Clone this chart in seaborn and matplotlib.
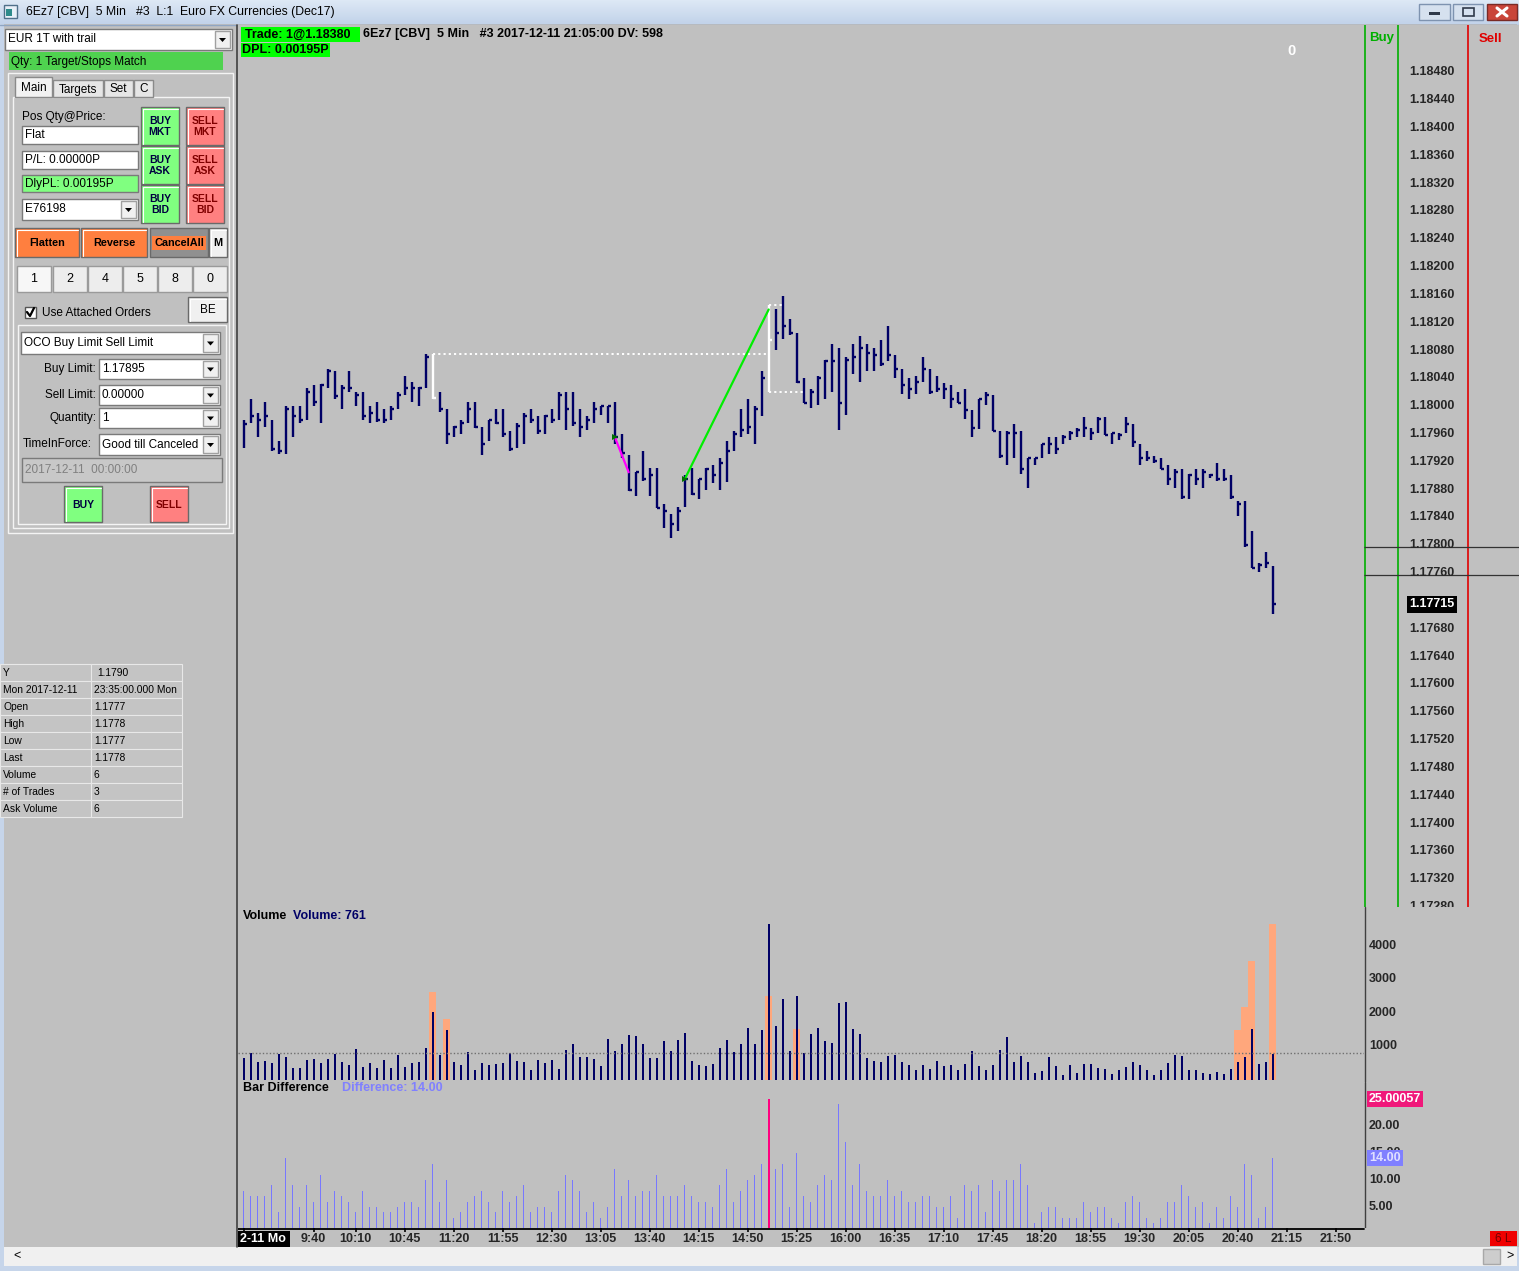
import numpy as np
import matplotlib
matplotlib.use("Agg")
import matplotlib.pyplot as plt
from matplotlib.patches import Rectangle, Polygon
from matplotlib.colors import LinearSegmentedColormap
import seaborn as sns

# 6Ez7 5 min bars, first bar 8:50, last bar 21:05
high = [1.17980, 1.18010, 1.17990, 1.18006, 1.17980, 1.17950, 1.18000, 1.18000, 1.18000, 1.18026,
        1.18030, 1.18032, 1.18054, 1.18050, 1.18030, 1.18050, 1.18020, 1.18020, 1.18000, 1.18006,
        1.17996, 1.18000, 1.18020, 1.18044, 1.18035, 1.18027, 1.18075, 1.18075, 1.18020, 1.17996,
        1.17972, 1.17980, 1.18006, 1.18006, 1.17970, 1.17980, 1.17996, 1.17996, 1.17965, 1.17976,
        1.17990, 1.17996, 1.17986, 1.17988, 1.17996, 1.18020, 1.18020, 1.18020, 1.17996, 1.17986,
        1.18006, 1.18000, 1.18000, 1.18006, 1.17960, 1.17930, 1.17906, 1.17935, 1.17911, 1.17911,
        1.17860, 1.17845, 1.17855, 1.17901, 1.17911, 1.17896, 1.17911, 1.17915, 1.17925, 1.17950,
        1.17965, 1.17996, 1.18010, 1.18000, 1.18050, 1.18146, 1.18139, 1.18159, 1.18125, 1.18105,
        1.18040, 1.18025, 1.18044, 1.18066, 1.18090, 1.18084, 1.18070, 1.18090, 1.18101, 1.18090,
        1.18084, 1.18095, 1.18115, 1.18074, 1.18054, 1.18040, 1.18044, 1.18070, 1.18054, 1.18044,
        1.18034, 1.18030, 1.18020, 1.18025, 1.17995, 1.18011, 1.18020, 1.18016, 1.17965, 1.17965,
        1.17975, 1.17965, 1.17926, 1.17926, 1.17946, 1.17955, 1.17955, 1.17959, 1.17965, 1.17969,
        1.17985, 1.17969, 1.17985, 1.17985, 1.17961, 1.17961, 1.17985, 1.17975, 1.17945, 1.17935,
        1.17929, 1.17925, 1.17915, 1.17910, 1.17910, 1.17902, 1.17910, 1.17910, 1.17903, 1.17919,
        1.17910, 1.17901, 1.17864, 1.17864, 1.17820, 1.17775, 1.17790, 1.17770]
low = [1.17940, 1.17976, 1.17956, 1.17970, 1.17936, 1.17931, 1.17931, 1.17956, 1.17976, 1.17980,
       1.18000, 1.17976, 1.18026, 1.18010, 1.17996, 1.18020, 1.18000, 1.17980, 1.17976, 1.17977,
       1.17976, 1.17980, 1.17996, 1.18016, 1.18006, 1.18000, 1.18026, 1.18010, 1.17991, 1.17946,
       1.17956, 1.17960, 1.17976, 1.17968, 1.17930, 1.17950, 1.17974, 1.17956, 1.17936, 1.17940,
       1.17946, 1.17976, 1.17960, 1.17960, 1.17976, 1.17980, 1.17966, 1.17972, 1.17956, 1.17966,
       1.17976, 1.17987, 1.17976, 1.17946, 1.17926, 1.17878, 1.17871, 1.17893, 1.17871, 1.17853,
       1.17825, 1.17811, 1.17821, 1.17855, 1.17872, 1.17866, 1.17880, 1.17890, 1.17880, 1.17891,
       1.17936, 1.17956, 1.17960, 1.17946, 1.17986, 1.18021, 1.18081, 1.18096, 1.18102, 1.18033,
       1.18004, 1.17997, 1.18001, 1.18011, 1.18021, 1.17966, 1.17987, 1.18046, 1.18035, 1.18051,
       1.18051, 1.18058, 1.18065, 1.18041, 1.18017, 1.18011, 1.18017, 1.18035, 1.18018, 1.18021,
       1.18011, 1.17997, 1.18004, 1.17981, 1.17956, 1.17967, 1.18001, 1.17964, 1.17926, 1.17916,
       1.17926, 1.17902, 1.17882, 1.17916, 1.17926, 1.17931, 1.17931, 1.17946, 1.17951, 1.17955,
       1.17956, 1.17951, 1.17961, 1.17958, 1.17946, 1.17951, 1.17961, 1.17941, 1.17916, 1.17921,
       1.17918, 1.17909, 1.17886, 1.17882, 1.17866, 1.17866, 1.17886, 1.17882, 1.17897, 1.17893,
       1.17893, 1.17866, 1.17842, 1.17798, 1.17767, 1.17761, 1.17767, 1.17701]
close = [1.17975, 1.17986, 1.17980, 1.17986, 1.17939, 1.17935, 1.17996, 1.17986, 1.17980, 1.18020,
         1.18006, 1.18030, 1.18050, 1.18015, 1.18026, 1.18026, 1.18016, 1.17986, 1.17990, 1.17980,
         1.17980, 1.17996, 1.18016, 1.18026, 1.18026, 1.18026, 1.18070, 1.18012, 1.17996, 1.17960,
         1.17970, 1.17976, 1.17996, 1.17970, 1.17946, 1.17980, 1.17976, 1.17960, 1.17939, 1.17972,
         1.17986, 1.17980, 1.17965, 1.17986, 1.17980, 1.18016, 1.17996, 1.17976, 1.17970, 1.17980,
         1.17996, 1.18000, 1.18000, 1.17956, 1.17932, 1.17880, 1.17905, 1.17895, 1.17901, 1.17854,
         1.17850, 1.17830, 1.17850, 1.17895, 1.17874, 1.17895, 1.17910, 1.17901, 1.17918, 1.17935,
         1.17960, 1.17966, 1.17970, 1.17996, 1.18040, 1.18095, 1.18105, 1.18115, 1.18105, 1.18035,
         1.18005, 1.18020, 1.18040, 1.18065, 1.18065, 1.18005, 1.18066, 1.18070, 1.18084, 1.18077,
         1.18074, 1.18060, 1.18074, 1.18054, 1.18030, 1.18025, 1.18035, 1.18054, 1.18020, 1.18025,
         1.18025, 1.18010, 1.18005, 1.17995, 1.17969, 1.18010, 1.18016, 1.17965, 1.17929, 1.17961,
         1.17961, 1.17910, 1.17925, 1.17925, 1.17946, 1.17946, 1.17939, 1.17955, 1.17961, 1.17966,
         1.17969, 1.17961, 1.17981, 1.17959, 1.17961, 1.17959, 1.17975, 1.17949, 1.17925, 1.17925,
         1.17921, 1.17910, 1.17895, 1.17905, 1.17870, 1.17901, 1.17895, 1.17905, 1.17901, 1.17895,
         1.17895, 1.17870, 1.17860, 1.17800, 1.17768, 1.17771, 1.17775, 1.17715]
volume = [657, 806, 537, 567, 507, 776, 687, 358, 358, 597,
          627, 507, 627, 776, 537, 448, 925, 388, 507, 358,
          597, 358, 746, 388, 507, 537, 955, 2030, 746, 1493,
          537, 448, 836, 299, 507, 448, 478, 507, 806, 567,
          537, 299, 597, 507, 597, 328, 896, 1075, 687, 687,
          627, 418, 1224, 866, 1075, 1343, 1313, 1075, 657, 657,
          1164, 866, 1194, 1403, 567, 448, 418, 478, 955, 1194,
          836, 1075, 1552, 1075, 1493, 4657, 1612, 2418, 866, 2507,
          806, 1373, 1552, 1164, 1104, 2298, 2328, 1522, 1373, 657,
          567, 537, 716, 746, 537, 448, 299, 448, 328, 567,
          418, 448, 299, 478, 866, 418, 299, 448, 896, 1284,
          537, 716, 537, 209, 269, 687, 418, 149, 448, 209,
          478, 478, 358, 328, 179, 299, 388, 537, 448, 299,
          149, 299, 507, 746, 716, 299, 299, 209, 179, 239,
          179, 328, 537, 687, 1522, 478, 537, 761]
volume_hi = [0] * 148
for i, v in [(27, 2617), (29, 1821), (75, 2507), (79, 1522),
             (142, 1483), (143, 2179), (144, 3552), (147, 4647)]:
    volume_hi[i] = v
bar_diff = [8, 7, 7, 7, 9, 4, 14, 9, 5, 9,
            6, 11, 6, 8, 7, 6, 4, 8, 5, 5,
            4, 4, 5, 6, 6, 5, 10, 13, 6, 10,
            3, 4, 6, 7, 8, 6, 4, 8, 6, 7,
            9, 4, 5, 5, 4, 8, 11, 10, 8, 4,
            6, 3, 5, 12, 7, 10, 7, 8, 8, 11,
            7, 7, 7, 9, 7, 6, 6, 5, 9, 12,
            6, 8, 10, 11, 13, 25.00057, 12, 13, 5, 15,
            7, 6, 9, 11, 10, 24, 17, 9, 13, 8,
            7, 7, 10, 7, 8, 6, 6, 7, 7, 5,
            5, 7, 3, 9, 8, 9, 4, 10, 8, 10,
            10, 13, 9, 2, 4, 5, 5, 3, 3, 3,
            6, 4, 5, 5, 3, 2, 6, 7, 6, 3,
            2, 3, 6, 6, 9, 7, 5, 6, 2, 5,
            3, 7, 5, 13, 11, 3, 5, 14]
first_bar = "8:50"
time_labels = ["9:40", "10:10", "10:45", "11:20", "11:55", "12:30", "13:05", "13:40",
               "14:15", "14:50", "15:25", "16:00", "16:35", "17:10", "17:45", "18:20",
               "18:55", "19:30", "20:05", "20:40", "21:15", "21:50"]
price_ticks = np.round(np.arange(1.17280, 1.18481, 0.0004), 5)
vol_ticks = [1000, 2000, 3000, 4000]
diff_ticks = [5, 10, 15, 20]
avg_volume = 800
short_trade = [(53, 1.17956), (55, 1.17905)]
long_trade = [(63, 1.17895), (75, 1.18139)]
marked_bars = [27, 75]
order_lines = [1.17797, 1.17757]

data_rows = [("Y", "1.1790"), ("Mon 2017-12-11", "23:35:00.000 Mon"), ("Open", "1.1777"),
             ("High", "1.1778"), ("Low", "1.1777"), ("Last", "1.1778"), ("Volume", "6"),
             ("# of Trades", "3"), ("Ask Volume", "6")]

sns.set_theme(style="white")
plt.rcParams['font.family'] = ['Liberation Sans', 'DejaVu Sans']

W, H = 1519, 1271
GRAY = '#C0C0C0'
NAVY = '#000066'
fig = plt.figure(figsize=(W / 100, H / 100), dpi=100)
fig.patch.set_facecolor(GRAY)


def add_ax(x0, y0, x1, y1):
    return fig.add_axes([x0 / W, 1 - y1 / H, (x1 - x0) / W, (y1 - y0) / H])


def clean(a):
    a.set_xticks([])
    a.set_yticks([])
    a.set_xlabel('')
    a.set_ylabel('')
    for s in a.spines.values():
        s.set_visible(False)


# ---------- window chrome + order entry panel (pixel coordinates) ----------
ui = add_ax(0, 0, W, H)
ui.set_facecolor(GRAY)
clean(ui)


def rect(x0, y0, x1, y1, fc, ec='none', lw=1.0, z=2, a=None):
    (a or ui).add_patch(Rectangle((x0, y0), x1 - x0, y1 - y0, facecolor=fc,
                                  edgecolor=ec, lw=lw, zorder=z))


def label(x, y, s, size=8.5, ha='left', color='black', weight='normal', a=None, **kw):
    (a or ui).text(x, y, s, fontsize=size, ha=ha, va='center', color=color,
                   fontweight=weight, zorder=6, **kw)


def button(x0, y0, x1, y1, fc, text='', tc='black', size=7.5, weight='bold'):
    rect(x0, y0, x1, y1, fc, ec='#6A6A6A')
    ui.plot([x0 + 1.5, x0 + 1.5, x1 - 1.5], [y1 - 1.5, y0 + 1.5, y0 + 1.5],
            color='white', lw=0.8, zorder=3)
    label((x0 + x1) / 2, (y0 + y1) / 2 + 0.5, text, ha='center', color=tc,
          size=size, weight=weight, linespacing=1.15)


def arrow_btn(x1, y0, y1):
    rect(x1 - 17, y0 + 2, x1 - 2, y1 - 2, '#F0F0F0', ec='#A0A0A0', z=3)
    cx, cy = x1 - 9.5, (y0 + y1) / 2
    ui.add_patch(Polygon([[cx - 3.5, cy - 1.5], [cx + 3.5, cy - 1.5], [cx, cy + 2.5]],
                         closed=True, fc='black', ec='none', zorder=4))


def dropdown(x0, y0, x1, y1, text, fc='white'):
    rect(x0, y0, x1, y1, fc, ec='#7A7A7A')
    arrow_btn(x1, y0, y1)
    label(x0 + 3, (y0 + y1) / 2, text)


def textbox(x0, y0, x1, y1, text, fc='white', tc='black'):
    rect(x0, y0, x1, y1, fc, ec='#7A7A7A')
    label(x0 + 3, (y0 + y1) / 2, text, color=tc)


# title bar
grad = LinearSegmentedColormap.from_list('tb', ['#DDE8F5', '#C2D3EA'])
ui.imshow(np.linspace(0, 1, 24).reshape(-1, 1), cmap=grad, extent=(0, W, 24, 0),
          aspect='auto', zorder=1)
ui.plot([0, W], [24.5, 24.5], color='#8FA5C2', lw=1, zorder=2)
rect(4, 5, 17, 18, '#E8F0F8', ec='#50708A', z=3)
rect(6, 9, 12, 16, '#2E8B8B', z=4)
label(26, 12.5, "6Ez7 [CBV]  5 Min   #3  L:1  Euro FX Currencies (Dec17)", size=8.8)
rect(1419, 4, 1450, 20, '#D6E1EF', ec='#7E93B0', z=3)
rect(1429, 12, 1440, 15, '#303A4A', z=4)
rect(1453, 4, 1483, 20, '#D6E1EF', ec='#7E93B0', z=3)
rect(1463, 8, 1474, 16, 'none', ec='#303A4A', lw=1.2, z=4)
rect(1487, 4, 1517, 20, '#C9453A', ec='#7A2A25', z=3)
ui.plot([1497, 1507], [8, 16], color='white', lw=2.2, zorder=5)
ui.plot([1497, 1507], [16, 8], color='white', lw=2.2, zorder=5)

# window borders and scroll bar
rect(0, 24, 4, H, '#C6D5EA', z=1)
rect(1517, 24, W, H, '#C6D5EA', z=1)
rect(0, 1266, W, H, '#C6D5EA', z=1)
rect(4, 1247, 1517, 1266, '#F0F0F0', z=2)
label(13, 1256, "<", size=9)
label(1510, 1256, ">", size=9, ha='center')
rect(1483, 1249, 1500, 1264, '#CDCDCD', ec='#A8A8A8', z=3)
ui.plot([236.5, 236.5], [25, 1247], color='#404040', lw=1.2, zorder=2)

# order entry panel
dropdown(5, 29, 232, 50, "EUR 1T with trail")
rect(9, 52, 223, 70, '#4FD24F')
label(11, 61.5, "Qty: 1 Target/Stops Match")
rect(8, 73, 233, 533, 'none', ec='#F4F4F4', lw=1)
rect(13, 97, 229, 528, 'none', ec='#F4F4F4', lw=1)
for (x0, x1, name, y0) in [(15, 52, "Main", 77), (53, 103, "Targets", 80),
                            (104, 133, "Set", 80), (134, 153, "C", 80)]:
    rect(x0, y0, x1, 97, '#F2F2F2' if name == "Main" else '#E6E6E6', ec='#8A8A8A', z=2)
    label((x0 + x1) / 2, (y0 + 97) / 2 + 1, name, ha='center')
label(22, 117, "Pos Qty@Price:")
textbox(22, 126, 138, 144, "Flat")
textbox(22, 151, 138, 169, "P/L: 0.00000P")
textbox(22, 175, 138, 192, "DlyPL: 0.00195P", fc='#80FF80')
dropdown(22, 199, 138, 220, "E76198")
for j, kind in enumerate(["MKT", "ASK", "BID"]):
    y0 = 107 + 39 * j
    button(141, y0, 179, y0 + 38, '#80FF80', "BUY\n" + kind, tc='#000040')
    button(186, y0, 224, y0 + 38, '#FF8080', "SELL\n" + kind, tc='#800000')
button(15, 228, 79, 257, '#FF7F3F', "Flatten", size=7.8)
button(81, 228, 147, 257, '#FF7F3F', "Reverse", size=7.8)
rect(150, 228, 208, 257, '#909090', ec='#6A6A6A')
rect(152, 236, 206, 250, '#FF7F3F', z=3)
label(179, 243, "CancelAll", ha='center', size=7.8, weight='bold')
button(209, 228, 227, 257, '#F0F0F0', "M", size=7.8)
for k, (n, x0) in enumerate(zip(["1", "2", "4", "5", "8", "0"], [17, 53, 88, 123, 158, 193])):
    rect(x0, 266, x0 + 34, 292, '#F7F7F7' if k == 0 else '#EDEDED', ec='#9A9A9A')
    label(x0 + 17, 279.5, n, ha='center', size=9)
rect(25, 307, 36, 318, 'white', ec='#555555')
ui.plot([27, 30, 34], [312, 316, 308], color='black', lw=1.6, zorder=4)
label(42, 312.5, "Use Attached Orders")
button(188, 297, 227, 322, '#F0F0F0', "BE", size=8.5, weight='normal')
rect(18, 325, 226, 524, 'none', ec='#F4F4F4', lw=1)
dropdown(21, 332, 220, 354, "OCO Buy Limit Sell Limit")
label(96, 369, "Buy Limit:", ha='right')
dropdown(99, 359, 220, 379, "1.17895")
label(96, 395, "Sell Limit:", ha='right')
dropdown(99, 385, 220, 405, "0.00000")
label(96, 418, "Quantity:", ha='right')
dropdown(99, 408, 220, 428, "1")
label(23, 444, "TimeInForce:")
dropdown(99, 434, 220, 455, "Good till Canceled")
textbox(22, 458, 222, 482, "2017-12-11  00:00:00", fc='#C8C8C8', tc='#808080')
button(64, 486, 102, 522, '#80FF80', "BUY", tc='#000040')
button(150, 486, 188, 522, '#FF8080', "SELL", tc='#800000')

# data box
for r, (k, v) in enumerate(data_rows):
    y0 = 664 + 17 * r
    rect(0, y0, 91, y0 + 17, '#C4C4C4', ec='#E8E8E8', lw=0.8)
    rect(91, y0, 182, y0 + 17, '#C4C4C4', ec='#E8E8E8', lw=0.8)
    label(3, y0 + 9, k, size=7.4)
    label(94 if r != 0 else 97, y0 + 9, v, size=7.4)

ui.set_xlim(0, W)
ui.set_ylim(H, 0)

# ---------- price panel ----------
x = np.arange(len(close))
XL = (-0.81, 160.04)
PL = (1.17280, 1.18548)
ax = add_ax(238, 25, 1364, 907)
ax.set_facecolor(GRAY)
cols = ['white' if i in marked_bars else NAVY for i in x]
ax.vlines(x, low, high, colors=cols, lw=1.7)
ax.hlines(close, x + 0.1, x + 0.45, colors=cols, lw=1.7)
dots = (0, (1.1, 1.6))
ax.hlines(high[marked_bars[0]], marked_bars[0], marked_bars[1], colors='white', linestyles=dots, lw=1.4)
ax.hlines(high[marked_bars[1]], marked_bars[1], marked_bars[1] + 2, colors='white', linestyles=dots, lw=1.4)
ax.hlines(low[marked_bars[1]], marked_bars[1], marked_bars[1] + 5, colors='white', linestyles=dots, lw=1.4)
ax.plot(*zip(*short_trade), color='#FF00FF', lw=1.6)
ax.plot(*zip(*long_trade), color='#00EE00', lw=1.6)
for tx, ty in (short_trade[0], long_trade[0]):
    ax.plot(tx, ty, marker='>', color='#007000', ms=4.5, mew=0)
ax.set_xlim(*XL)
ax.set_ylim(*PL)
clean(ax)

axr = add_ax(1364, 25, 1519, 907)
axr.set_facecolor(GRAY)
axr.set_xlim(0, 155)
axr.set_ylim(*PL)
axr.axvline(0.5, color='#00B000', lw=1.2)
axr.axvline(33.5, color='#00B000', lw=1.2)
axr.axvline(103.7, color='#E00000', lw=1.2)
axr.hlines(order_lines, 0, 155, colors='#333333', lw=0.9)
for p in price_ticks:
    if abs(p - close[-1]) < 0.0001:
        continue  # hidden behind the last-price marker
    axr.text(45, p, f"{p:.5f}", fontsize=9, fontweight='bold', va='center', clip_on=True)
axr.text(45, close[-1], f"{close[-1]:.5f}", fontsize=9, fontweight='bold', va='center',
         color='white', bbox=dict(facecolor='black', edgecolor='none', pad=1.6))
clean(axr)

# ---------- volume panel ----------
axv = add_ax(238, 907, 1364, 1082)
axv.set_facecolor(GRAY)
sns.barplot(x=x, y=volume_hi, native_scale=True, width=1.0, color='#FFA77C',
            saturation=1, errorbar=None, linewidth=0, ax=axv)
sns.barplot(x=x, y=volume, native_scale=True, width=0.3, color=NAVY,
            saturation=1, errorbar=None, linewidth=0, ax=axv)
axv.axhline(avg_volume, color='#707070', ls=(0, (1, 1.5)), lw=1)
axv.set_xlim(*XL)
axv.set_ylim(-60, 5164)
clean(axv)

axvr = add_ax(1364, 907, 1519, 1082)
axvr.set_facecolor(GRAY)
axvr.set_xlim(0, 155)
axvr.set_ylim(-60, 5164)
axvr.axvline(0.5, color='#404040', lw=1)
for v in vol_ticks:
    axvr.text(5, v, str(v), fontsize=9, fontweight='bold', va='center')
clean(axvr)

# ---------- bar difference panel ----------
axd = add_ax(238, 1082, 1364, 1228)
axd.set_facecolor(GRAY)
sns.barplot(x=x, y=bar_diff, native_scale=True, width=0.2, color='#7878FF',
            saturation=1, errorbar=None, linewidth=0, ax=axd)
top = int(np.argmax(bar_diff))
pk = axd.patches[top]
pk.set_facecolor('#FF0080')
pk.set_x(top - 0.17)
pk.set_width(0.34)
axd.set_xlim(*XL)
axd.set_ylim(1.11, 28.15)
clean(axd)

axdr = add_ax(1364, 1082, 1519, 1228)
axdr.set_facecolor(GRAY)
axdr.set_xlim(0, 155)
axdr.set_ylim(1.11, 28.15)
axdr.axvline(0.5, color='#404040', lw=1)
for v in diff_ticks:
    axdr.text(5, v, f"{v:.2f}", fontsize=9, fontweight='bold', va='center')
axdr.text(5, bar_diff[top], f"{bar_diff[top]:.5f}", fontsize=9, fontweight='bold', va='center',
          color='white', bbox=dict(facecolor='#F0187A', edgecolor='none', pad=1.4))
axdr.text(5, bar_diff[-1], f"{bar_diff[-1]:.2f}", fontsize=9, fontweight='bold', va='center',
          color='#E0E0FF', bbox=dict(facecolor='#8080FF', edgecolor='none', pad=1.4))
clean(axdr)

# ---------- time axis ----------
def to_min(t):
    h, m = t.split(":")
    return int(h) * 60 + int(m)


axt = add_ax(238, 1228, 1519, 1247)
axt.set_facecolor(GRAY)
axt.set_xlim(XL[0], XL[0] + (1519 - 238) / 7)
axt.set_ylim(1, 0)
axt.plot([XL[0], XL[1]], [0.03, 0.03], color='black', lw=1.3)
pos = [(to_min(t) - to_min(first_bar)) / 5 for t in time_labels]
axt.vlines([0] + pos, 0, 0.22, colors='black', lw=1.2)
for p, t in zip(pos, time_labels):
    axt.text(p, 0.6, t, fontsize=9, fontweight='bold', ha='center', va='center')
clean(axt)

# ---------- texts on top ----------
fg = add_ax(0, 0, W, H)
fg.patch.set_alpha(0)
fg.set_xlim(0, W)
fg.set_ylim(H, 0)
clean(fg)
fg.set_zorder(10)
rect(241, 27, 360, 42, '#00FF00', a=fg)
label(245, 34.5, "Trade: 1@1.18380", size=9, weight='bold', a=fg)
label(363, 34.5, "6Ez7 [CBV]  5 Min   #3 2017-12-11 21:05:00 DV: 598", size=9, weight='bold', a=fg)
rect(241, 43, 330, 57, '#00FF00', a=fg)
label(242, 50, "DPL: 0.00195P", size=9, weight='bold', a=fg)
label(1291, 51, "0", size=10.5, weight='bold', color='white', ha='center', a=fg)
label(1369, 38.5, "Buy", size=9.5, weight='bold', color='#00B000', a=fg)
label(1479, 38.5, "Sell", size=9.5, weight='bold', color='#E00000', a=fg)
label(243, 916, "Volume", size=9, weight='bold', a=fg)
label(293, 916, f"Volume: {volume[-1]}", size=9, weight='bold', color=NAVY, a=fg)
label(243, 1088, "Bar Difference", size=9, weight='bold', a=fg)
label(342, 1088, f"Difference: {bar_diff[-1]:.2f}", size=9, weight='bold', color='#8080FF', a=fg)
rect(238, 1231, 290, 1247, 'black', a=fg)
label(240, 1239.5, "2-11 Mo", size=9, weight='bold', color='white', a=fg)
rect(1490, 1231, 1517, 1246, '#F00000', a=fg)
label(1503, 1239, "6 L", size=8.5, color='#700000', ha='center', a=fg)
fg.set_xlim(0, W)
fg.set_ylim(H, 0)

fig.savefig("out.png", dpi=100, facecolor=fig.get_facecolor())
